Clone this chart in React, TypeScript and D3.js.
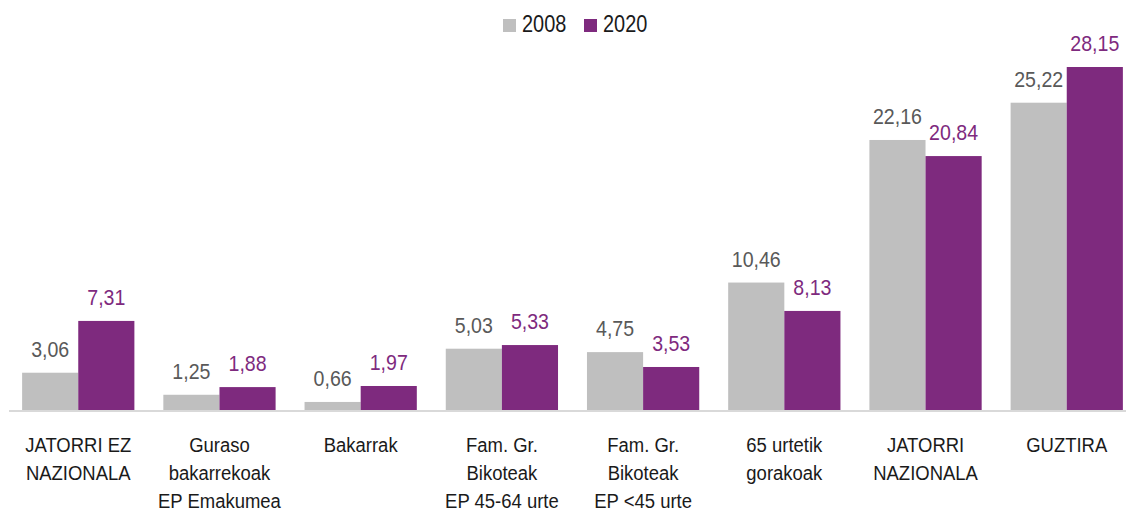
import React from "react";
import * as d3 from "d3";

const categories = [
  ["JATORRI EZ", "NAZIONALA"],
  ["Guraso", "bakarrekoak", "EP Emakumea"],
  ["Bakarrak"],
  ["Fam. Gr.", "Bikoteak", "EP 45-64 urte"],
  ["Fam. Gr.", "Bikoteak", "EP <45 urte"],
  ["65 urtetik", "gorakoak"],
  ["JATORRI", "NAZIONALA"],
  ["GUZTIRA"],
];
const values2008 = [3.06, 1.25, 0.66, 5.03, 4.75, 10.46, 22.16, 25.22];
const values2020 = [7.31, 1.88, 1.97, 5.33, 3.53, 8.13, 20.84, 28.15];
const seriesNames = ["2008", "2020"];

const W = 1126;
const H = 514;
// narrow sans: Liberation Sans squeezed horizontally
const FONT = "'Liberation Sans', Arial, sans-serif";
const colors = ["#BFBFBF", "#7E2A7E"];
const labelColors = ["#595959", "#7E2A7E"];

const fmt = (v: number) => v.toFixed(2).replace(".", ",");

function NarrowText(props: {
  x: number;
  y: number;
  size: number;
  fill: string;
  squeeze?: number;
  anchor?: "start" | "middle" | "end";
  children: React.ReactNode;
}) {
  return (
    <text
      transform={`translate(${props.x},${props.y}) scale(${props.squeeze || 0.88},1)`}
      textAnchor={props.anchor || "middle"}
      fontFamily={FONT}
      fontSize={props.size}
      fill={props.fill}
    >
      {props.children}
    </text>
  );
}

export default function App() {
  const x = d3
    .scaleBand<number>()
    .domain(d3.range(categories.length))
    .range([8, 1137])
    .paddingInner(0.205)
    .paddingOuter(0.1);
  const inner = d3
    .scaleBand<number>()
    .domain([0, 1])
    .range([0, x.bandwidth()]);
  const y = d3.scaleLinear().domain([0, 28.15]).range([410, 67]);
  const series = [values2008, values2020];

  return (
    <svg width={W} height={H} style={{ display: "block", position: "absolute", left: 0, top: 0 }}>
      <rect width={W} height={H} fill="#fff" />
      {/* legend */}
      {seriesNames.map((name, i) => (
        <g key={name} transform={`translate(${503 + i * 81}, 19)`}>
          <rect width={13} height={13} fill={colors[i]} />
          <NarrowText x={19} y={13} size={24} squeeze={0.83} fill="#1a1a1a" anchor="start">
            {name}
          </NarrowText>
        </g>
      ))}
      {/* bars */}
      {categories.map((_, ci) =>
        series.map((vals, si) => {
          const bx = (x(ci) as number) + (inner(si) as number);
          return (
            <g key={`${ci}-${si}`}>
              <rect
                x={bx}
                y={y(vals[ci])}
                width={inner.bandwidth()}
                height={y(0) - y(vals[ci])}
                fill={colors[si]}
              />
              <NarrowText
                x={bx + inner.bandwidth() / 2}
                y={y(vals[ci]) - 16}
                size={22}
                squeeze={0.89}
                fill={labelColors[si]}
              >
                {fmt(vals[ci])}
              </NarrowText>
            </g>
          );
        })
      )}
      {/* axis */}
      <line x1={9} x2={W} y1={411} y2={411} stroke="#D9D9D9" strokeWidth={2} />
      {/* category labels */}
      {categories.map((lines, ci) =>
        lines.map((l, li) => (
          <NarrowText
            key={`${ci}-${li}`}
            x={(x(ci) as number) + x.bandwidth() / 2}
            y={452 + li * 28}
            size={21}
            squeeze={0.88}
            fill="#1a1a1a"
          >
            {l}
          </NarrowText>
        ))
      )}
    </svg>
  );
}
